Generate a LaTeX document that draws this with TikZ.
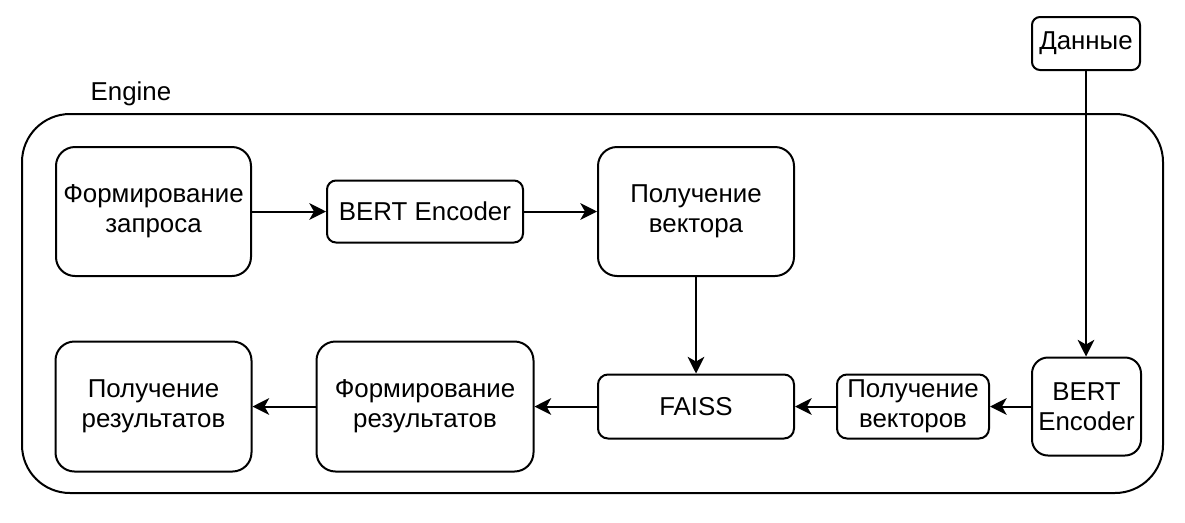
\documentclass[tikz,border=0pt]{standalone}
\usepackage{fontspec}
\setmainfont{Liberation Sans}
\usetikzlibrary{arrows.meta}
\newcommand{\boxfont}{\fontsize{19.4}{22.5}\selectfont}

\begin{document}
\begin{tikzpicture}[x=0.75pt,y=-0.75pt,
box/.style n args={3}{draw,line width=1.5pt,rounded corners=#3*0.75pt,minimum width=#1*0.75pt,minimum height=#2*0.75pt,align=center,inner sep=0pt,font=\boxfont},
arr/.style={line width=1.5pt,-{Stealth[length=12.5pt,width=12.5pt,inset=3.5pt]}}]
\useasboundingbox (0,0) rectangle (1185,522);
\draw[line width=1.5pt,rounded corners=36pt] (22,114) rectangle (1163,493);
\node[font=\boxfont] (engine) at (131,94) {Engine};
   \node[box={108}{53}{8}](data) at(1086,43.5) {Данные};
   \node[box={195}{129}{19}](zapros) at(153.5,211.5) {Формирование\\запроса};
   \node[box={196}{62}{9}](bertq) at(425,211.5) {BERT Encoder};
   \node[box={196}{129}{19}](vector) at(696,211.5) {Получение\\вектора};
   \node[box={196}{64}{10}](faiss) at(696,406.5) {FAISS};
   \node[box={152}{64}{10}](vectors) at(913,406.5) {Получение\\векторов};
   \node[box={109}{98}{16}](bertd) at(1086.5,406.5) {BERT\\Encoder};
   \node[box={217}{130}{19}](result) at(425,406.5) {Формирование\\результатов};
   \node[box={196}{130}{19}](final) at(153.5,406.5) {Получение\\результатов};
\draw[arr] (zapros) -- (bertq);
\draw[arr] (bertq) -- (vector);
\draw[arr] (vector) -- (faiss);
\draw[arr] (data.south) -- (data.south |- bertd.north);
\draw[arr] (bertd) -- (vectors);
\draw[arr] (vectors) -- (faiss);
\draw[arr] (faiss) -- (result);
\draw[arr] (result) -- (final);
\end{tikzpicture}
\end{document}
